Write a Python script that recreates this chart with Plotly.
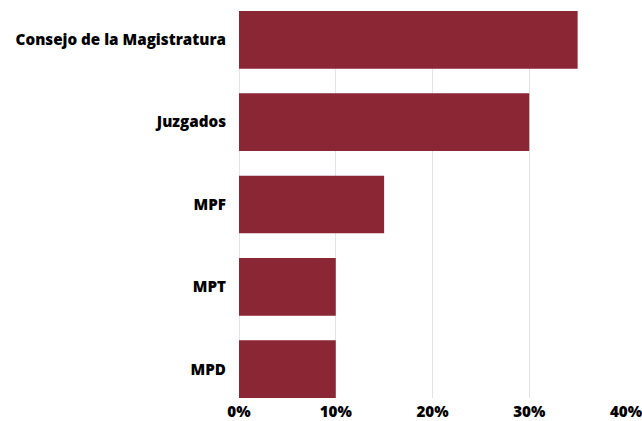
import plotly.graph_objects as go

categories = ["Consejo de la Magistratura", "Juzgados", "MPF", "MPT", "MPD"]
values = [35, 30, 15, 10, 10]
tick_vals = [0, 10, 20, 30, 40]
tick_text = ["0%", "10%", "20%", "30%", "40%"]

bar_w = 0.7

fig = go.Figure(go.Bar(
    y=categories, x=values, orientation="h",
    marker=dict(color="#8B2635", line=dict(width=0)),
    width=bar_w,
    hoverinfo="skip",
))

fnt = dict(family="Open Sans", size=15.2, color="black", weight=800)

fig.update_layout(
    template="none",
    width=642, height=421,
    margin=dict(l=239, r=16, t=11, b=23, autoexpand=False),
    paper_bgcolor="white", plot_bgcolor="white",
    font=fnt,
    showlegend=False,
)
fig.update_xaxes(
    automargin=False,
    range=[0, 40], tickvals=tick_vals, ticktext=tick_text,
    showgrid=True, gridcolor="#e3e3e3", gridwidth=1,
    zeroline=True, zerolinecolor="#e3e3e3", zerolinewidth=1,
    showline=False, ticks="", ticklabelstandoff=3,
    ticklabeloverflow="allow",
    tickfont=fnt,
)
fig.update_yaxes(
    automargin=False,
    categoryorder="array", categoryarray=categories,
    autorange=False, range=[len(categories) - 1 + bar_w / 2, -bar_w / 2],
    showgrid=False, zeroline=False, showline=False, ticks="",
    ticklabelstandoff=12,
    tickfont=fnt,
)

fig.write_html(
    "out.html",
    config={"displayModeBar": False},
    post_script="document.body.style.margin='0';document.body.style.padding='0';",
)
